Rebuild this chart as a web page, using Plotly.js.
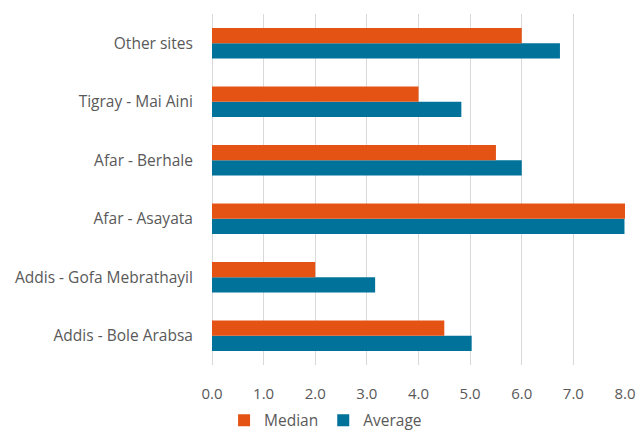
<!DOCTYPE html>
<html>
<head>
<meta charset="utf-8">
<script src="https://cdn.plot.ly/plotly-3.0.1.min.js"></script>
<style>html,body{margin:0;padding:0;background:#fff;}#chart{width:638px;height:432px;}</style>
</head>
<body>
<div id="chart"></div>
<script>
const categories = ["Addis - Bole Arabsa", "Addis - Gofa Mebrathayil", "Afar - Asayata", "Afar - Berhale", "Tigray - Mai Aini", "Other sites"];
const medianValues = [4.5, 2.0, 8.0, 5.5, 4.0, 6.0];
const averageValues = [5.03, 3.16, 7.99, 6.0, 4.83, 6.74];
const xTicks = [0, 1, 2, 3, 4, 5, 6, 7, 8];

const traces = [
  {type: 'bar', orientation: 'h', name: 'Average', y: categories, x: averageValues,
   marker: {color: '#01729A'}, legendrank: 2},
  {type: 'bar', orientation: 'h', name: 'Median', y: categories, x: medianValues,
   marker: {color: '#E55314'}, legendrank: 1}
];

const layout = {
  width: 638, height: 432,
  margin: {l: 212, r: 13, t: 14, b: 67, autoexpand: false},
  paper_bgcolor: '#fff', plot_bgcolor: '#fff',
  font: {family: 'Open Sans, sans-serif', size: 15, color: '#595959'},
  barmode: 'group', bargap: 0.48, bargroupgap: 0,
  showlegend: true,
  legend: {orientation: 'h', x: 0.275, xanchor: 'center', y: -0.11, yanchor: 'top',
           font: {size: 15.5, color: '#595959'}},
  xaxis: {range: [0, 8], tickvals: xTicks, tickformat: '.1f', showgrid: true, gridcolor: '#D9D9D9', gridwidth: 1,
          zeroline: true, zerolinecolor: '#D9D9D9', zerolinewidth: 1, showline: false,
          ticks: 'outside', ticklen: 15, tickcolor: 'rgba(0,0,0,0)',
          tickfont: {size: 15, color: '#595959'}, tickangle: 0, automargin: false, fixedrange: true},
  yaxis: {type: 'category', categoryorder: 'array', categoryarray: categories, showgrid: false, zeroline: false,
          showline: false, ticks: 'outside', ticklen: 15, tickcolor: 'rgba(0,0,0,0)', automargin: false,
          tickfont: {size: 15.5, color: '#595959'}, fixedrange: true}
};

Plotly.newPlot('chart', traces, layout, {displayModeBar: false, staticPlot: true});
</script>
</body>
</html>
